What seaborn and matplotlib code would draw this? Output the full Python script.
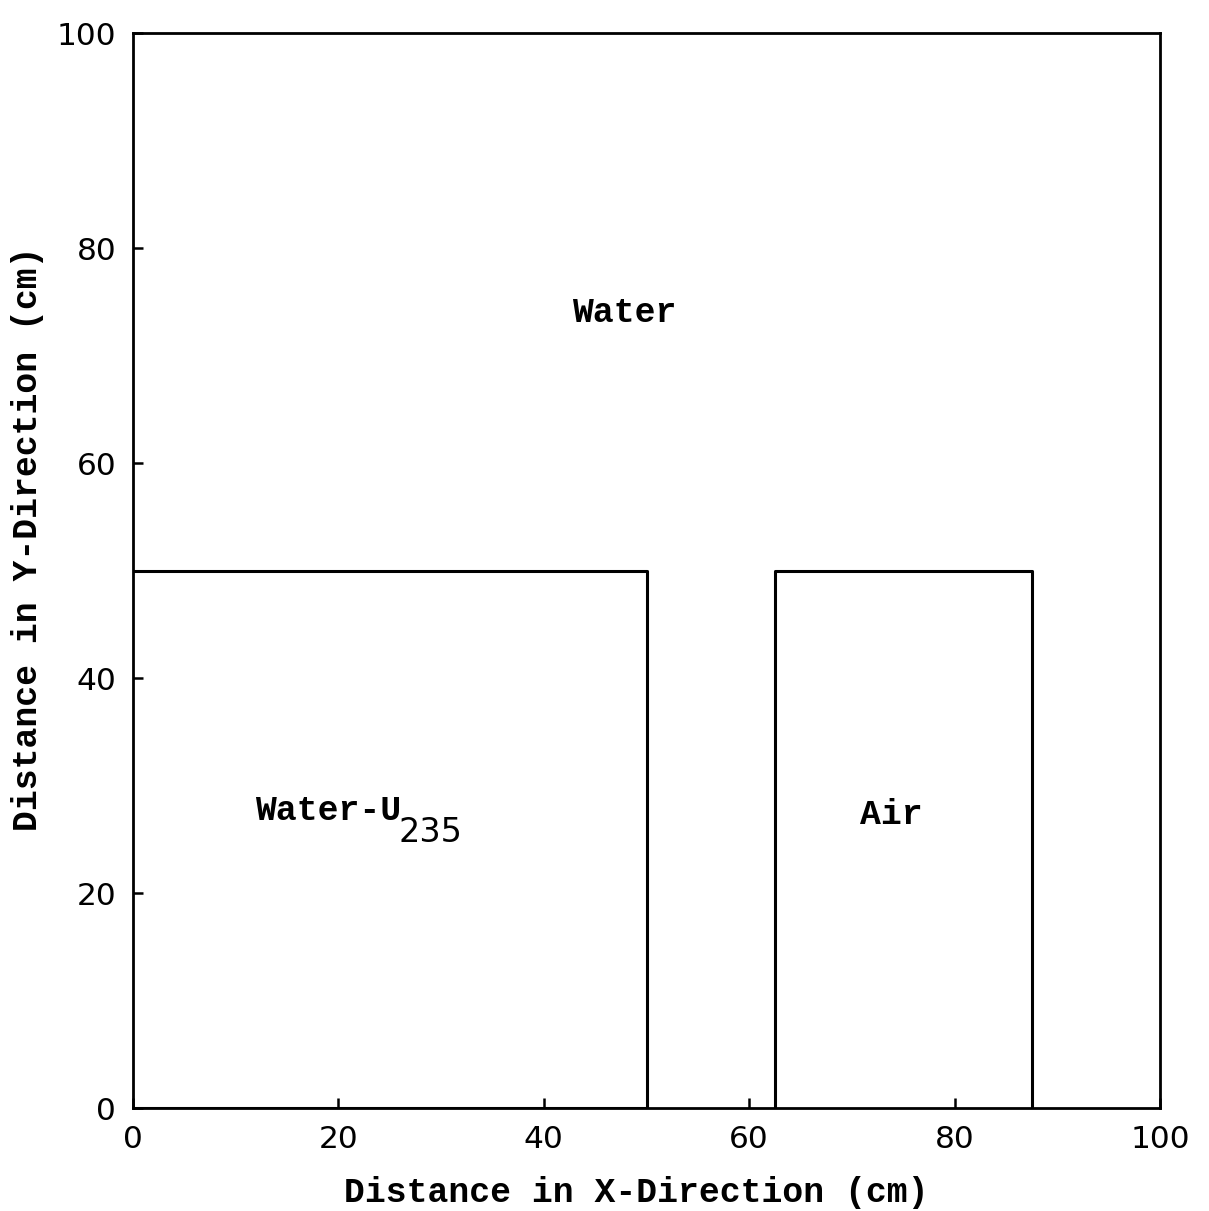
import pandas as pd
import seaborn as sns
import matplotlib.pyplot as plt

# region outlines (cm), each a closed path
region_names = ["Water-U235", "Water-U235", "Water-U235", "Water-U235",
                "Air", "Air", "Air", "Air"]
region_x = [0, 50, 50, 0, 62.5, 62.5, 87.5, 87.5]
region_y = [50, 50, 0, 0, 0, 50, 50, 0]

label_text = ["Water", "Water-U", "Air"]
label_x = [47.8, 11.9, 73.8]
label_y = [74.0, 27.7, 27.3]
label_ha = ["center", "left", "center"]

ticks = [0, 20, 40, 60, 80, 100]

data_tab = pd.DataFrame({"region": region_names, "x": region_x, "y": region_y})

sns.set_theme(style="ticks")
plt.rcParams["xtick.direction"] = "in"
plt.rcParams["ytick.direction"] = "in"
plt.rcParams["text.color"] = "black"
plt.rcParams["axes.labelcolor"] = "black"
plt.rcParams["xtick.color"] = "black"
plt.rcParams["ytick.color"] = "black"
mono = "Liberation Mono"

f = plt.figure(figsize=(12.09, 12.11), dpi=100)
ax = f.add_axes([0.110, 0.085, 0.8495, 0.8877])

sns.lineplot(data=data_tab, x="x", y="y", units="region", estimator=None,
             sort=False, color="black", linewidth=2.2, ax=ax, legend=False)

for t, x, y, ha in zip(label_text, label_x, label_y, label_ha):
    ax.text(x, y, t, fontsize=25, fontweight="bold", family=mono,
            ha=ha, va="center")
# subscript of U235, set lower like the typed original
ax.text(25.9, 25.6, "235", fontsize=24, ha="left", va="center")

ax.set_xlim(0, 100)
ax.set_ylim(0, 100)
ax.set_xticks(ticks)
ax.set_yticks(ticks)
ax.tick_params(direction="in", length=7, width=1.8, labelsize=22.5, pad=12,
               colors="black")
for s in ax.spines.values():
    s.set_linewidth(2)
    s.set_color("black")

ax.set_xlabel("Distance in X-Direction (cm)", fontsize=25, fontweight="bold",
              family=mono)
ax.set_ylabel("Distance in Y-Direction (cm)", fontsize=25, fontweight="bold",
              family=mono)
ax.xaxis.set_label_coords(0.49, -0.063)
ax.yaxis.set_label_coords(-0.087, 0.53)

plt.savefig("out.png", dpi=100)
